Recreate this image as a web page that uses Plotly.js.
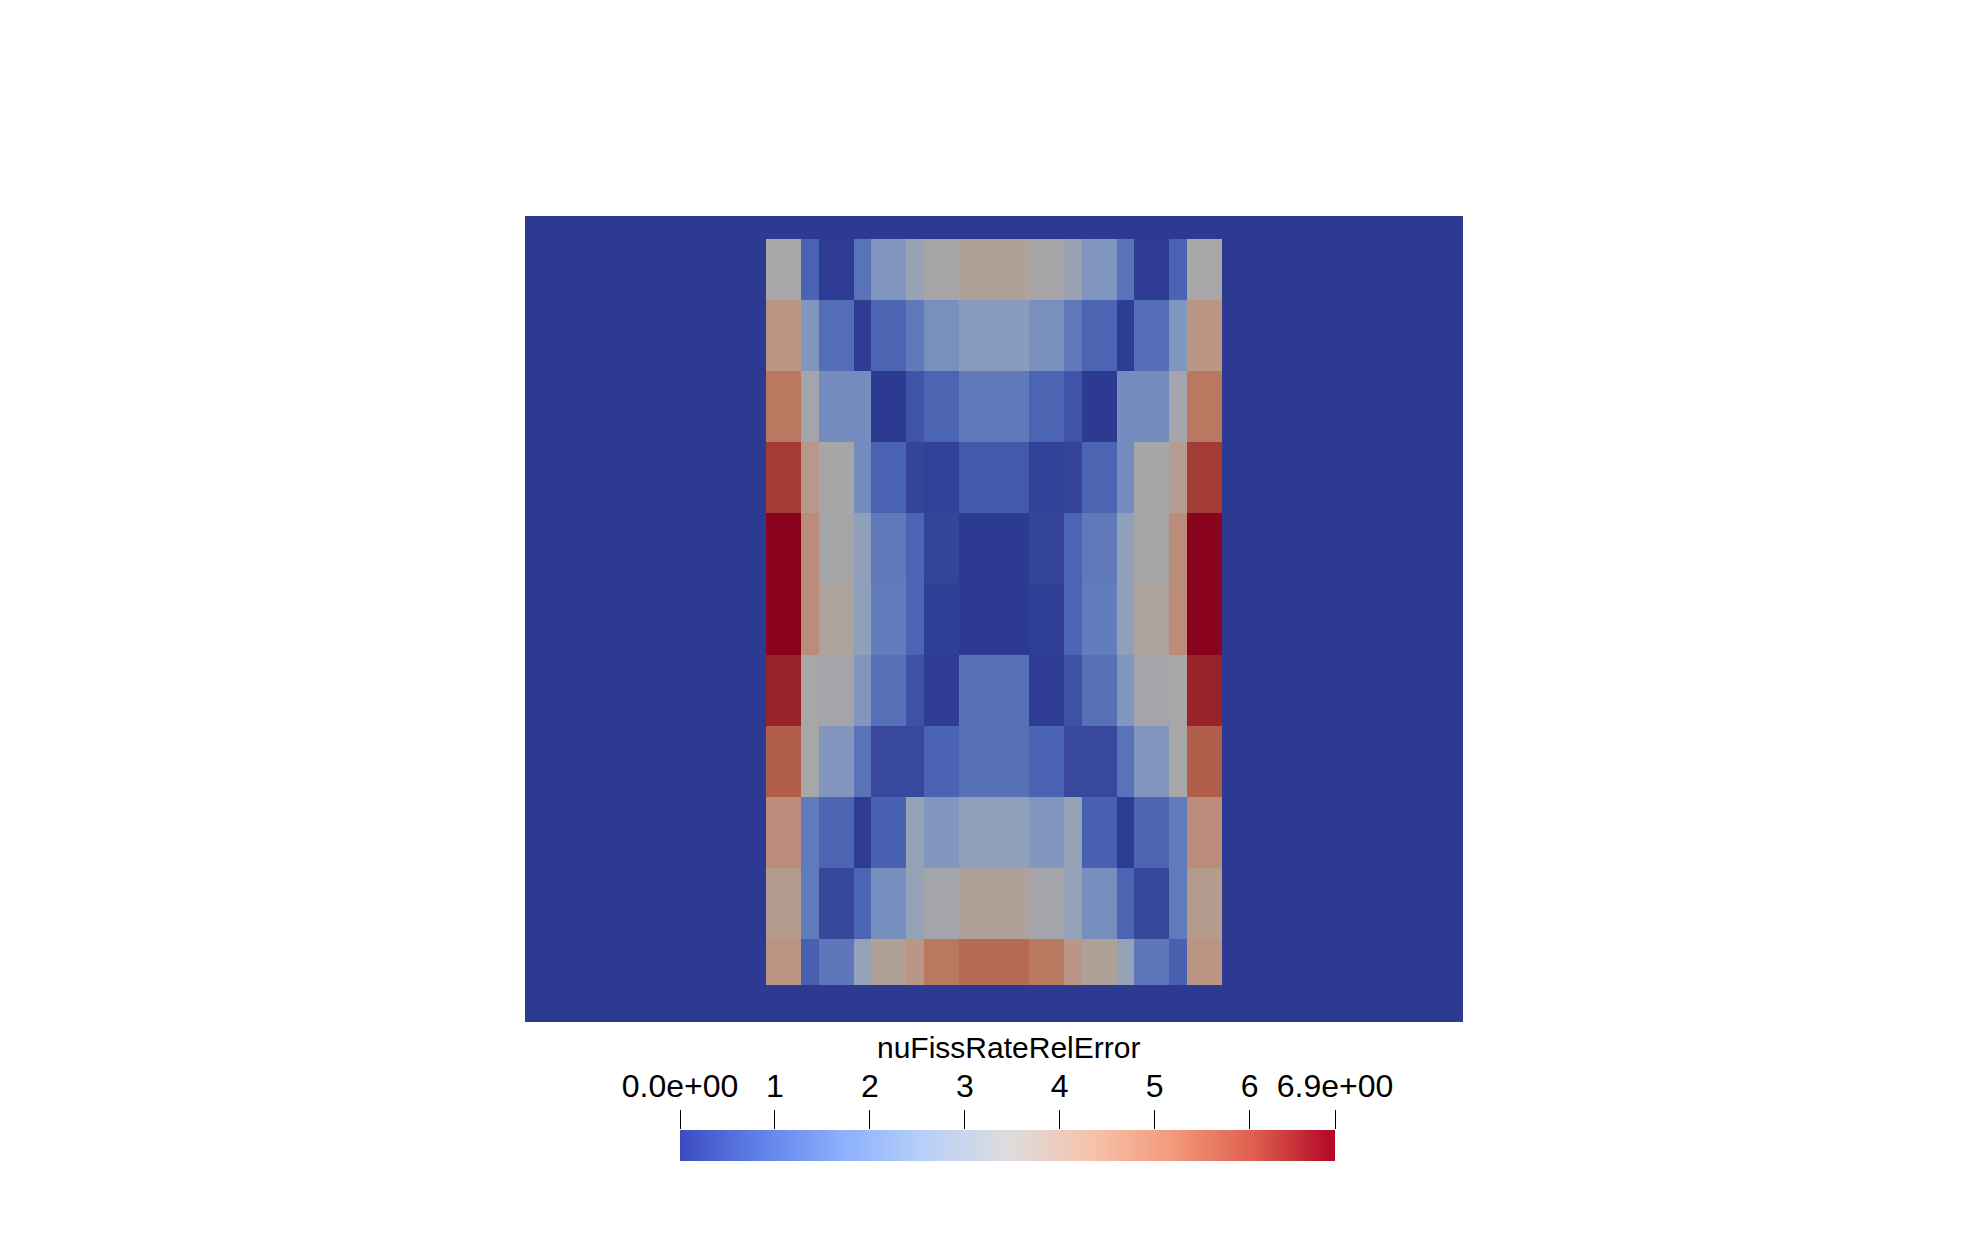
<!DOCTYPE html>
<html><head><meta charset="utf-8">
<script src="https://cdn.plot.ly/plotly-3.0.1.min.js"></script>
<style>html,body{margin:0;padding:0;background:#fff}#chart{width:1988px;height:1238px}</style>
</head><body><div id="chart"></div>
<script>
// ---------------- data ----------------
const fieldName = 'nuFissRateRelError';
const valueMin = 0.0;
const valueMax = 6.9;
const barTickValues = [0, 1, 2, 3, 4, 5, 6, 6.9];
const barTickLabels = ['0.0e+00', '1', '2', '3', '4', '5', '6', '6.9e+00'];

// cell edges of the mesh (outer moderator region + 15 x 11 core cells)
const xEdges = [0, 241, 276, 294, 329, 346, 381, 399, 434, 504, 539, 557, 592, 609, 644, 662, 697, 938];
const yEdges = [0, 23, 84, 155, 226, 297, 367, 439, 510, 581, 652, 723, 769, 806];
const outerValue = 0.0;

// core cell values, top row first, left to right
const row01 = [3.45, 0.86, 0.05, 1.25, 2.30, 3.00, 3.40, 3.80, 3.40, 3.00, 2.30, 1.25, 0.05, 0.86, 3.45];
const row02 = [4.30, 2.30, 1.10, 0.05, 0.90, 1.40, 2.10, 2.50, 2.10, 1.40, 0.90, 0.05, 1.10, 2.30, 4.30];
const row03 = [5.10, 3.25, 1.95, 1.95, 0.00, 0.55, 0.90, 1.40, 0.90, 0.55, 0.00, 1.95, 1.95, 3.25, 5.10];
const row04 = [6.20, 4.10, 3.40, 1.95, 0.85, 0.20, 0.15, 0.65, 0.15, 0.20, 0.90, 1.95, 3.40, 4.00, 6.20];
const row05 = [6.90, 4.55, 3.40, 2.70, 1.40, 0.90, 0.20, 0.00, 0.20, 0.90, 1.40, 2.70, 3.40, 4.55, 6.90];
const row06 = [6.90, 4.55, 3.65, 2.70, 1.50, 0.90, 0.10, 0.00, 0.10, 0.90, 1.50, 2.70, 3.65, 4.55, 6.90];
const row07 = [6.50, 3.45, 3.30, 2.30, 1.20, 0.50, 0.05, 1.20, 0.05, 0.50, 1.20, 2.30, 3.30, 3.45, 6.50];
const row08 = [5.65, 3.45, 2.35, 1.25, 0.30, 0.30, 0.86, 1.20, 0.86, 0.30, 0.30, 1.25, 2.35, 3.45, 5.65];
const row09 = [4.55, 1.45, 0.90, 0.05, 0.80, 2.85, 2.35, 2.70, 2.35, 2.85, 0.80, 0.05, 0.90, 1.45, 4.55];
const row10 = [4.05, 1.45, 0.28, 0.90, 2.05, 2.85, 3.30, 3.80, 3.30, 2.85, 2.05, 0.90, 0.28, 1.45, 4.05];
const row11 = [4.30, 0.80, 1.35, 2.85, 3.80, 4.25, 5.10, 5.40, 5.10, 4.25, 3.80, 2.85, 1.35, 0.80, 4.30];

// ---------------- styling ----------------
const coolWarm = [
  [0.000, [59, 76, 192]], [0.125, [98, 130, 234]], [0.250, [141, 176, 254]],
  [0.375, [184, 208, 249]], [0.500, [221, 220, 220]], [0.625, [245, 196, 173]],
  [0.750, [244, 154, 123]], [0.875, [222, 96, 77]], [1.000, [180, 4, 38]]
];
const shade = 0.76; // lighting of the rendered surface
const toScale = (k) => coolWarm.map(([t, c]) =>
  [t, 'rgb(' + c.map(v => Math.round(v * k)).join(',') + ')']);
const litScale = toScale(shade);
const barScale = toScale(1);

const coreRows = [row01, row02, row03, row04, row05, row06, row07, row08, row09, row10, row11];
const nCols = xEdges.length - 1;
const blankRow = new Array(nCols).fill(outerValue);
const zGrid = [blankRow].concat(coreRows.map(r => [outerValue].concat(r, [outerValue])), [blankRow]);

// colour bar samples
const nBar = 276;
const barEdges = [], barZ = [];
for (let i = 0; i <= nBar; i++) barEdges.push(valueMin + (valueMax - valueMin) * i / nBar);
for (let i = 0; i < nBar; i++) barZ.push((barEdges[i] + barEdges[i + 1]) / 2);

const W = 1988, H = 1238;
const px = (x) => x / W, py = (y) => (H - y) / H;
const fontFam = '"Liberation Sans", Arial, sans-serif';

const traces = [
  {
    type: 'heatmap', x: xEdges, y: yEdges, z: zGrid,
    colorscale: litScale, zmin: valueMin, zmax: valueMax,
    showscale: false, zsmooth: false, hoverinfo: 'skip',
    xaxis: 'x', yaxis: 'y'
  },
  {
    type: 'heatmap', x: barEdges, y: [0, 1], z: [barZ],
    colorscale: barScale, zmin: valueMin, zmax: valueMax,
    showscale: false, zsmooth: false, hoverinfo: 'skip',
    xaxis: 'x2', yaxis: 'y2'
  }
];

const hidden = { visible: false, showgrid: false, zeroline: false, fixedrange: true };
const layout = {
  width: W, height: H,
  margin: { l: 0, r: 0, t: 0, b: 0, pad: 0 },
  paper_bgcolor: '#ffffff', plot_bgcolor: '#ffffff',
  showlegend: false,
  font: { family: fontFam, color: '#000000' },
  xaxis: Object.assign({}, hidden, { domain: [px(525), px(1463)], range: [0, 938], anchor: 'y' }),
  yaxis: Object.assign({}, hidden, { domain: [py(1022), py(216)], range: [806, 0], anchor: 'x' }),
  xaxis2: {
    domain: [px(680), px(1335)], range: [valueMin, valueMax], anchor: 'y2', side: 'top',
    tickmode: 'array', tickvals: barTickValues, ticktext: barTickLabels, tickangle: 0,
    ticks: 'outside', ticklen: 19, tickwidth: 1, tickcolor: '#000000',
    showgrid: false, zeroline: false, showline: false, fixedrange: true,
    tickfont: { family: fontFam, size: 32, color: '#000000' }
  },
  yaxis2: Object.assign({}, hidden, { domain: [py(1161), py(1130)], range: [0, 1], anchor: 'x2' }),
  annotations: [{
    text: fieldName, xref: 'paper', yref: 'paper',
    x: px(1008), y: py(1047), xanchor: 'center', yanchor: 'middle',
    showarrow: false, font: { family: fontFam, size: 30, color: '#000000' }
  }]
};

Plotly.newPlot('chart', traces, layout, { staticPlot: true, displayModeBar: false });
</script>
</body></html>
